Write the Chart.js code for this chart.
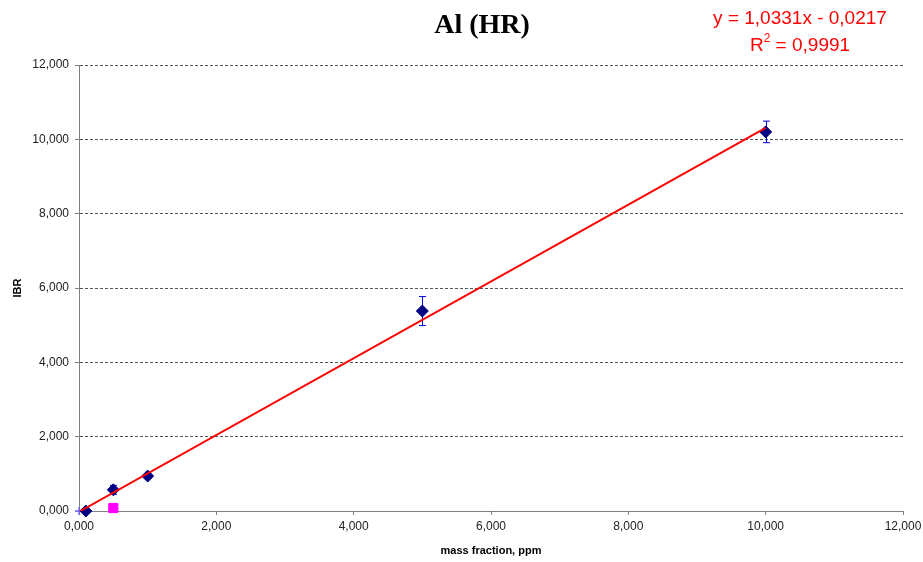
<!DOCTYPE html>
<html>
<head>
<meta charset="utf-8">
<script src="https://cdn.jsdelivr.net/npm/chart.js@4"></script>
<style>
  html, body { margin: 0; padding: 0; background: #fff; }
  canvas { display: block; }
</style>
</head>
<body>
<canvas id="calibChart" width="923" height="562"></canvas>
<script>
// Calibration points: mass fraction (ppm) vs. IBR
const massFraction = [0.1, 0.5, 1, 5, 10];
const ibr = [0.0, 0.57, 0.94, 5.38, 10.20];
const ibrError = [0.03, 0.12, 0.05, 0.39, 0.29];

// Sample point (magenta) and blank marker at origin
const sampleX = [0.5];
const sampleY = [0.08];
const blankX = [0];
const blankY = [0];

// Linear fit
const slope = 1.0331;
const intercept = -0.0217;
const r2 = 0.9991;
const fitRange = [0, 10];

const axisTicks = [0, 2, 4, 6, 8, 10, 12];

const fmt = v => Number(v).toFixed(3).replace('.', ',');
const fmt4 = v => Number(v).toFixed(4).replace('.', ',');

const toPoints = (xs, ys) => xs.map((x, i) => ({ x: x, y: ys[i] }));

// Vertical error bars with small caps, drawn under the markers
const errorBars = {
    id: 'errorBars',
    beforeDatasetsDraw(chart) {
        const { ctx, scales: { x, y } } = chart;
        ctx.save();
        ctx.strokeStyle = '#0000ff';
        ctx.lineWidth = 1;
        massFraction.forEach((mx, i) => {
            const px = Math.round(x.getPixelForValue(mx)) + 0.5;
            const top = y.getPixelForValue(ibr[i] + ibrError[i]);
            const bot = y.getPixelForValue(ibr[i] - ibrError[i]);
            ctx.beginPath();
            ctx.moveTo(px, top); ctx.lineTo(px, bot);
            ctx.moveTo(px - 3.5, top); ctx.lineTo(px + 3.5, top);
            ctx.moveTo(px - 3.5, bot); ctx.lineTo(px + 3.5, bot);
            ctx.stroke();
        });
        ctx.restore();
    }
};

// Title and regression equation
const headerText = {
    id: 'headerText',
    afterDraw(chart) {
        const ctx = chart.ctx;
        ctx.save();
        ctx.fillStyle = '#000';
        ctx.font = 'bold 28px "Liberation Serif", "Times New Roman", serif';
        ctx.textAlign = 'center';
        ctx.textBaseline = 'alphabetic';
        ctx.fillText('Al (HR)', 482, 33);

        ctx.fillStyle = '#ff0000';
        ctx.font = '19px "Liberation Sans", Arial, sans-serif';
        ctx.fillText('y = ' + fmt4(slope) + 'x - ' + fmt4(Math.abs(intercept)), 800, 24);

        const rest = ' = ' + fmt4(r2);
        const wR = ctx.measureText('R').width;
        ctx.font = '12px "Liberation Sans", Arial, sans-serif';
        const wSup = ctx.measureText('2').width;
        ctx.font = '19px "Liberation Sans", Arial, sans-serif';
        const wRest = ctx.measureText(rest).width;
        let xs = 800 - (wR + wSup + wRest) / 2;
        ctx.textAlign = 'left';
        ctx.fillText('R', xs, 51);
        ctx.font = '12px "Liberation Sans", Arial, sans-serif';
        ctx.fillText('2', xs + wR, 42);
        ctx.font = '19px "Liberation Sans", Arial, sans-serif';
        ctx.fillText(rest, xs + wR + wSup, 51);
        ctx.restore();
    }
};

const tickFont = { family: '"Liberation Sans", Arial, sans-serif', size: 12 };
const titleFont = { family: '"Liberation Sans", Arial, sans-serif', size: 11, weight: 'bold' };

new Chart(document.getElementById('calibChart').getContext('2d'), {
    type: 'scatter',
    data: {
        datasets: [
            {
                label: 'Linear fit',
                type: 'line',
                data: fitRange.map(v => ({ x: v, y: slope * v + intercept })),
                borderColor: '#ff0000',
                borderWidth: 2,
                pointRadius: 0,
                fill: false,
                order: 0
            },
            {
                label: 'Standards',
                data: toPoints(massFraction, ibr),
                pointStyle: 'rectRot',
                radius: 6,
                backgroundColor: '#000080',
                borderColor: '#000080',
                borderWidth: 1,
                clip: 10,
                order: 1
            },
            {
                label: 'Sample',
                data: toPoints(sampleX, sampleY),
                pointStyle: 'rect',
                radius: 6.5,
                backgroundColor: '#ff00ff',
                borderColor: '#ff00ff',
                borderWidth: 1,
                clip: 10,
                order: 2
            },
            {
                label: 'Blank',
                data: toPoints(blankX, blankY),
                pointStyle: 'cross',
                radius: 4,
                borderColor: '#6f6fff',
                borderWidth: 1.5,
                clip: 10,
                order: 3
            }
        ]
    },
    options: {
        responsive: false,
        devicePixelRatio: 1,
        animation: false,
        layout: { padding: { top: 65, right: 20, left: 0, bottom: 0 } },
        plugins: {
            legend: { display: false },
            tooltip: { enabled: false }
        },
        scales: {
            x: {
                type: 'linear',
                min: 0,
                max: 12,
                afterFit: s => { s.height = 51; s.paddingRight = 0; s.paddingLeft = 0; },
                afterBuildTicks: s => { s.ticks = axisTicks.map(v => ({ value: v })); },
                ticks: { callback: fmt, font: tickFont, color: '#222', padding: 4, maxRotation: 0 },
                grid: { drawOnChartArea: false, drawTicks: true, tickLength: 4, tickColor: '#808080' },
                border: { display: true, color: '#808080', width: 1 },
                title: { display: true, text: 'mass fraction, ppm', font: titleFont, color: '#000', padding: { top: 0, bottom: 4 } }
            },
            y: {
                type: 'linear',
                min: 0,
                max: 12,
                afterFit: s => { s.width = 79; s.paddingTop = 0; s.paddingBottom = 0; },
                afterBuildTicks: s => { s.ticks = axisTicks.map(v => ({ value: v })); },
                ticks: { callback: fmt, font: tickFont, color: '#222', padding: 6 },
                grid: {
                    color: '#555',
                    tickLength: 4,
                    tickColor: '#808080',
                    tickBorderDash: [],
                    drawTicks: true
                },
                border: { display: true, color: '#808080', width: 1, dash: [3, 2] },
                title: { display: true, text: 'IBR', font: titleFont, color: '#000', padding: { top: 11, bottom: 0 } }
            }
        }
    },
    plugins: [errorBars, headerText]
});
</script>
</body>
</html>
